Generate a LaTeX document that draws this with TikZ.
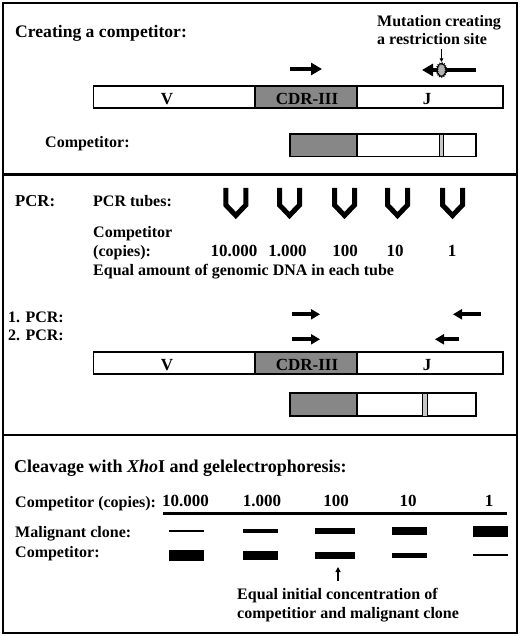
\documentclass[tikz,border=0pt]{standalone}
\usepackage{fontspec}
\setmainfont{Liberation Serif}
\usetikzlibrary{arrows.meta,decorations.pathmorphing}
\begin{document}
\begin{tikzpicture}[x=1pt,y=-1pt,
 txt/.style={inner sep=0, anchor=base west, font=\fontsize{16}{18}\selectfont\bfseries},
 ttl/.style={inner sep=0, anchor=base west, font=\fontsize{17.6}{20}\selectfont\bfseries},
 num/.style={inner sep=0, anchor=base, font=\fontsize{17}{20}\selectfont\bfseries},
 barlbl/.style={inner sep=0, anchor=base, font=\fontsize{17}{20}\selectfont\bfseries},
 bar/.style={draw, line width=1.6pt},
 cdr/.style={fill=black!47},
 stripe/.style={draw, line width=0.8pt, fill=black!22},
 primer/.style={line width=4.4pt, -{Triangle[length=11pt,width=12pt]}},
 primertwo/.style={line width=3.8pt, -{Triangle[length=9pt,width=10pt]}},
 tube/.style={line width=5pt, miter limit=10},
 band/.style={fill=black, inner sep=0, minimum width=35pt},
]
\useasboundingbox (0,0) rectangle (520,636);
% frame and dividers
\draw[line width=2pt] (3,3) rectangle (517,633);
\draw[line width=2.6pt] (3,174.5) -- (517,174.5);
\draw[line width=2.6pt] (3,435) -- (517,435);

% ---------- Panel 1 ----------
\node[ttl] (t1) at (15,38) {Creating a competitor:};
\node[txt] (m1) at (377,27) {Mutation creating};
\node[txt] (m2) at (377,45) {a restriction site};
\coordinate (mutA) at (441.5,49);
\coordinate (mutB) at (441.5,62);
\draw[line width=0.9pt, -{Triangle[length=3.5pt,width=3.5pt]}] (mutA) -- (mutB);
\coordinate (pf1a) at (290,69);
\coordinate (pf1b) at (322,69);
\coordinate (pr1a) at (476,70);
\coordinate (pr1b) at (422,70);
\draw[primer] (pf1a) -- (pf1b);
\draw[primer] (pr1a) -- (pr1b);
\draw[line width=0.9pt, fill=black!30, decorate, decoration={zigzag, segment length=2pt, amplitude=0.7pt}] (441.5,70) ellipse (4.4 and 6.5);

\fill[cdr] (255,86) rectangle (356.7,108.3);
\draw[bar] (93.3,86) rectangle (502.7,108.3);
\draw[bar] (255,86) -- (255,108.3);
\draw[bar] (356.7,86) -- (356.7,108.3);
\node[barlbl] (v1) at (167,105) {V};
\node[barlbl] (c1) at (307,105) {CDR-III};
\node[barlbl] (j1) at (427,105) {J};

\node[txt] (comp1) at (45,148) {Competitor:};
\fill[cdr] (290,134) rectangle (356.7,156.7);
\draw[bar] (290,134) rectangle (476,156.7);
\draw[bar] (356.7,134) -- (356.7,156.7);
\draw[stripe] (439.3,134) rectangle (443.3,156.7);

% ---------- Panel 2 ----------
\node[inner sep=0, anchor=base west, font=\fontsize{16.7}{19}\selectfont\bfseries] (pcr) at (15,207) {PCR:};
\node[txt] (tubes) at (93,207) {PCR tubes:};
\foreach \x/\n in {235.8/a,289.5/b,344.5/c,397.5/d,452.5/e}{
  \draw[tube] (\x-10,188) -- (\x-10,205) -- (\x,215.5) -- (\x+10,205) -- (\x+10,188);
}
\node[txt] (compa) at (93,237) {Competitor};
\node[txt] (compb) at (93,256) {(copies):};
\node[num] (n1) at (234,256) {10.000};
\node[num] (n2) at (287.5,256) {1.000};
\node[num] (n3) at (345,256) {100};
\node[num] (n4) at (395,256) {10};
\node[num] (n5) at (452,256) {1};
\node[txt] (equal) at (93,275) {Equal amount of genomic DNA in each tube};

\node[txt] (p1) at (8,322) {1. PCR:};
\node[txt] (p2) at (8,340) {2. PCR:};
\coordinate (f1a) at (292,314.3); \coordinate (f1b) at (320,314.3);
\coordinate (r1a) at (481,314.3); \coordinate (r1b) at (453,314.3);
\coordinate (f2a) at (292,339.3); \coordinate (f2b) at (320,339.3);
\coordinate (r2a) at (459,339.3); \coordinate (r2b) at (435,339.3);
\draw[primertwo] (f1a) -- (f1b);
\draw[primertwo] (r1a) -- (r1b);
\draw[primertwo] (f2a) -- (f2b);
\draw[primertwo] (r2a) -- (r2b);

\fill[cdr] (255,351.7) rectangle (356.7,374);
\draw[bar] (93.3,351.7) rectangle (502.7,374);
\draw[bar] (255,351.7) -- (255,374);
\draw[bar] (356.7,351.7) -- (356.7,374);
\node[barlbl] (v2) at (167,370.5) {V};
\node[barlbl] (c2) at (307,370.5) {CDR-III};
\node[barlbl] (j2) at (427,370.5) {J};

\fill[cdr] (290,393) rectangle (356.7,416);
\draw[bar] (290,393) rectangle (476,416);
\draw[bar] (356.7,393) -- (356.7,416);
\draw[stripe] (422.7,393) rectangle (427.3,416);

% ---------- Panel 3 ----------
\node[inner sep=0, anchor=base west, font=\fontsize{18}{20}\selectfont\bfseries] (t3) at (14,472) {Cleavage with \textit{Xho}I and gelelectrophoresis:};
\node[txt] (cc) at (15,507) {Competitor (copies):};
\node[num] (g1) at (185.5,506) {10.000};
\node[num] (g2) at (262,506) {1.000};
\node[num] (g3) at (336,506) {100};
\node[num] (g4) at (408,506) {10};
\node[num] (g5) at (489,506) {1};
\draw[line width=3.6pt] (163,513.5) -- (507,513.5);

\node[txt] (mal) at (15,537) {Malignant clone:};
\node[txt] (comp3) at (15,557) {Competitor:};

\node[band, minimum height=2pt] (ma) at (186.5,531) {};
\node[band, minimum height=4.5pt] (mb) at (260.5,531) {};
\node[band, minimum height=6.5pt, minimum width=40pt] (mc) at (335,531) {};
\node[band, minimum height=8pt] (md) at (409.5,531) {};
\node[band, minimum height=11pt] (me) at (490.5,531) {};

\node[band, minimum height=11.5pt] (ca) at (186.5,555.3) {};
\node[band, minimum height=9pt] (cb) at (260.5,555.3) {};
\node[band, minimum height=7pt, minimum width=40pt] (cc3) at (335,555.3) {};
\node[band, minimum height=4.5pt] (cd) at (409.5,555.3) {};
\node[band, minimum height=2pt] (ce) at (490.5,555.3) {};

\node[txt] (eq1) at (237,599) {Equal initial concentration of};
\node[txt] (eq2) at (237,618) {competitior and malignant clone};
\coordinate (upA) at (338,581);
\coordinate (upB) at (338,567);
\draw[line width=1.1pt, -{Triangle[length=5pt,width=5pt]}] (upA) -- (upB);
\end{tikzpicture}
\end{document}
